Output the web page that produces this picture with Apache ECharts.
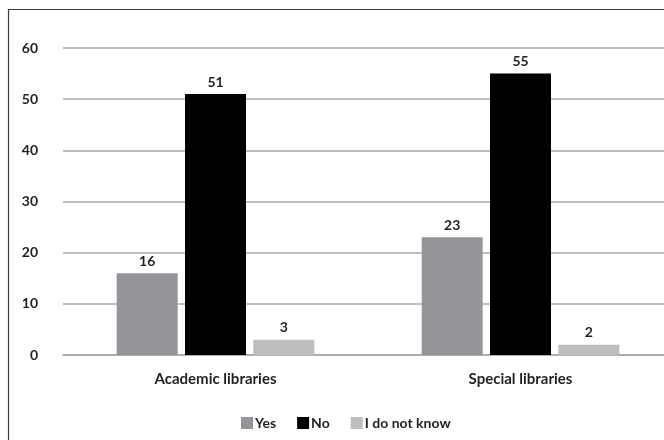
<!DOCTYPE html>
<html>
<head>
<meta charset="utf-8">
<script src="https://cdn.jsdelivr.net/npm/echarts@6/dist/echarts.min.js"></script>
<style>html,body{margin:0;padding:0;background:#fff;overflow:hidden;width:664px;height:440px}#c{width:680px;height:440px}</style>
</head>
<body>
<div id="c"></div>
<script>
var categories = ['Academic libraries', 'Special libraries'];
var seriesNames = ['Yes', 'No', 'I do not know'];
var yesValues = [16, 23];
var noValues = [51, 55];
var dontKnowValues = [3, 2];
var yTicks = [0, 10, 20, 30, 40, 50, 60];

var colors = ['#939598', '#000000', '#bcbec0'];
var fontFam = 'Lato, "Open Sans", sans-serif';
var txt = '#231f20';

var chart = echarts.init(document.getElementById('c'), null, {renderer: 'canvas'});
function mk(name, data, color) {
  return {
    name: name, type: 'bar', data: data, barWidth: 61, barGap: '12%',
    itemStyle: {color: color},
    label: {show: true, position: 'top', distance: 5, color: txt,
      fontFamily: fontFam, fontWeight: 'bold', fontSize: 14},
    emphasis: {disabled: true}
  };
}
chart.setOption({
  animation: false,
  color: colors,
  graphic: [{type: 'rect', shape: {x: 8.5, y: 9.5, width: 800, height: 600},
    style: {fill: 'none', stroke: '#3a3a3a', lineWidth: 1.2}, silent: true}],
  grid: {left: 63, right: 7, top: 48, bottom: 85},
  legend: {
    data: seriesNames, left: 236, top: 411, itemWidth: 12, itemHeight: 12,
    itemGap: 21, icon: 'rect',
    textStyle: {fontFamily: fontFam, fontWeight: 'bold', fontSize: 14, color: txt, padding: [0,0,0,-3]}
  },
  xAxis: {
    type: 'category', data: categories,
    axisLine: {show: true, lineStyle: {color: '#a7a9ac', width: 1.5}},
    axisTick: {show: false},
    axisLabel: {margin: 17, color: txt, fontFamily: fontFam, fontWeight: 'bold', fontSize: 15}
  },
  yAxis: {
    type: 'value', min: yTicks[0], max: yTicks[yTicks.length - 1], interval: 10,
    axisLine: {show: false}, axisTick: {show: false},
    axisLabel: {margin: 25, color: txt, fontFamily: fontFam, fontWeight: 'bold', fontSize: 14},
    splitLine: {lineStyle: {color: '#a7a9ac', width: 1.5}}
  },
  series: [
    mk(seriesNames[0], yesValues, colors[0]),
    mk(seriesNames[1], noValues, colors[1]),
    mk(seriesNames[2], dontKnowValues, colors[2])
  ]
});
</script>
</body>
</html>
